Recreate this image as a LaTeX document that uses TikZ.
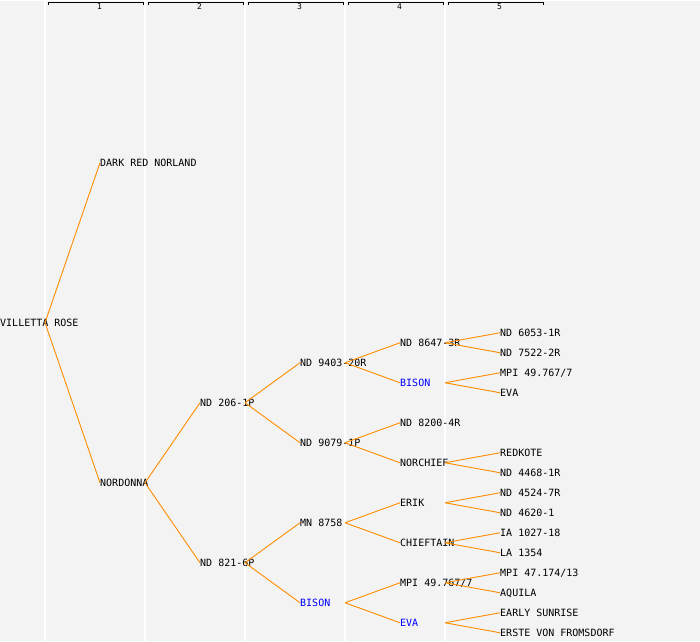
\documentclass[tikz,border=0pt]{standalone}
\usepackage{fontspec}
\setmonofont{DejaVu Sans Mono}
\usepackage{tikz}
\usetikzlibrary{positioning}
\definecolor{pedline}{HTML}{FF8C00}
\definecolor{pedbg}{HTML}{F3F3F3}

\begin{document}
\begin{tikzpicture}[x=1pt,y=-1pt]
            \tikzstyle{every node} = [anchor=west, inner sep=0pt, font=\ttfamily\fontsize{10}{12}\selectfont, text height=7pt, text depth=0pt]
            \tikzstyle{dup} = [text=blue]
            \tikzstyle{link} = [draw=pedline, line width=0.9pt]
            \tikzstyle{colnum} = [anchor=center, font=\ttfamily\fontsize{8}{9}\selectfont, text height=5.8pt]

            % background and column rules
            \fill[pedbg] (0,0) rectangle (700,640);
            \foreach \x in {45,145,245,345,445}
                \draw[white, line width=1.5pt] (\x,0) -- (\x,640);

            % column header
            \foreach \i in {1,...,5} {
                \draw[black, line width=1pt] (\i*100-52,4.5) -- (\i*100-52,1.5) -- (\i*100+43,1.5) -- (\i*100+43,4.5);
                \node[colnum](h\i) at (\i*100-0.5,6.2){\i};
            }

            \node(vr) at (0,322){VILLETTA ROSE};

            \node(drn) at (100,162){DARK RED NORLAND};
            \node(nordonna) at (100,482){NORDONNA};

            \node(nd206) at (200,402){ND 206-1P};
            \node(nd821) at (200,562){ND 821-6P};

            \node(nd9403) at (300,362){ND 9403-20R};
            \node(nd9079) at (300,442){ND 9079-1P};
            \node(mn8758) at (300,522){MN 8758};
            \node[dup](bisona) at (300,602){BISON};

            \node(nd8647) at (400,342){ND 8647-3R};
            \node[dup](bisonb) at (400,382){BISON};
            \node(nd8200) at (400,422){ND 8200-4R};
            \node(norchief) at (400,462){NORCHIEF};
            \node(erik) at (400,502){ERIK};
            \node(chieftain) at (400,542){CHIEFTAIN};
            \node(mpia) at (400,582){MPI 49.767/7};
            \node[dup](evaa) at (400,622){EVA};

            \node(nd6053) at (500,332){ND 6053-1R};
            \node(nd7522) at (500,352){ND 7522-2R};
            \node(mpib) at (500,372){MPI 49.767/7};
            \node(evab) at (500,392){EVA};
            \node(redkote) at (500,452){REDKOTE};
            \node(nd4468) at (500,472){ND 4468-1R};
            \node(nd4524) at (500,492){ND 4524-7R};
            \node(nd4620) at (500,512){ND 4620-1};
            \node(ia1027) at (500,532){IA 1027-18};
            \node(la1354) at (500,552){LA 1354};
            \node(mpi47) at (500,572){MPI 47.174/13};
            \node(aquila) at (500,592){AQUILA};
            \node(early) at (500,612){EARLY SUNRISE};
            \node(erste) at (500,632){ERSTE VON FROMSDORF};

            \path[link] ([xshift=45pt]vr.west) edge (drn.west);
            \path[link] ([xshift=45pt]vr.west) edge (nordonna.west);
            \path[link] ([xshift=45pt]nordonna.west) edge (nd206.west);
            \path[link] ([xshift=45pt]nordonna.west) edge (nd821.west);
            \path[link] ([xshift=45pt]nd206.west) edge (nd9403.west);
            \path[link] ([xshift=45pt]nd206.west) edge (nd9079.west);
            \path[link] ([xshift=45pt]nd821.west) edge (mn8758.west);
            \path[link] ([xshift=45pt]nd821.west) edge (bisona.west);
            \path[link] ([xshift=45pt]nd9403.west) edge (nd8647.west);
            \path[link] ([xshift=45pt]nd9403.west) edge (bisonb.west);
            \path[link] ([xshift=45pt]nd9079.west) edge (nd8200.west);
            \path[link] ([xshift=45pt]nd9079.west) edge (norchief.west);
            \path[link] ([xshift=45pt]mn8758.west) edge (erik.west);
            \path[link] ([xshift=45pt]mn8758.west) edge (chieftain.west);
            \path[link] ([xshift=45pt]bisona.west) edge (mpia.west);
            \path[link] ([xshift=45pt]bisona.west) edge (evaa.west);
            \path[link] ([xshift=45pt]nd8647.west) edge (nd6053.west);
            \path[link] ([xshift=45pt]nd8647.west) edge (nd7522.west);
            \path[link] ([xshift=45pt]bisonb.west) edge (mpib.west);
            \path[link] ([xshift=45pt]bisonb.west) edge (evab.west);
            \path[link] ([xshift=45pt]norchief.west) edge (redkote.west);
            \path[link] ([xshift=45pt]norchief.west) edge (nd4468.west);
            \path[link] ([xshift=45pt]erik.west) edge (nd4524.west);
            \path[link] ([xshift=45pt]erik.west) edge (nd4620.west);
            \path[link] ([xshift=45pt]chieftain.west) edge (ia1027.west);
            \path[link] ([xshift=45pt]chieftain.west) edge (la1354.west);
            \path[link] ([xshift=45pt]mpia.west) edge (mpi47.west);
            \path[link] ([xshift=45pt]mpia.west) edge (aquila.west);
            \path[link] ([xshift=45pt]evaa.west) edge (early.west);
            \path[link] ([xshift=45pt]evaa.west) edge (erste.west);
\end{tikzpicture}
\end{document}
